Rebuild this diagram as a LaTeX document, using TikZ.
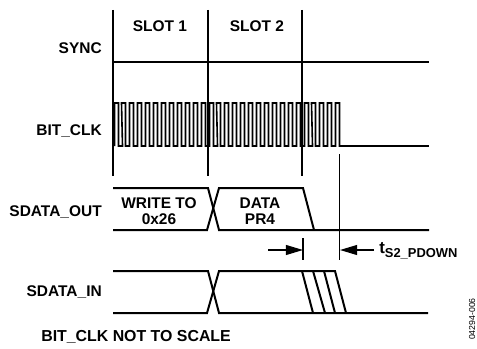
\documentclass[tikz,border=0pt]{standalone}
\usepackage{fontspec}
\usepackage{xcolor}
\setmainfont{Liberation Sans}
\usetikzlibrary{arrows.meta}

\tikzset{
	signal/.style={line width=0.5mm},
	thinsignal/.style={line width=0.4mm},
	marker/.style={line width=0.3mm},
	dimline/.style={line width=0.3mm, -{Triangle[length=4.3mm, width=2.5mm]}},
	signame/.style={font=\bfseries\fontsize{11pt}{11.4pt}\selectfont, align=center, inner sep=0pt},
}

\begin{document}
\begin{tikzpicture}[x=0.025cm, y=-0.025cm]
	\useasboundingbox (0, 0) rectangle (477, 348);

	% Signal names
	\node[signame, anchor=east] (SYNC) at (102, 48) {SYNC};
	\node[signame, anchor=east] (BITCLK) at (102, 131) {BIT\_CLK};
	\node[signame, anchor=east] (SDATAOUT) at (102, 212) {SDATA\_OUT};
	\node[signame, anchor=east] (SDATAIN) at (102, 292) {SDATA\_IN};
	\node[signame] (SLOT1) at (160, 26) {SLOT 1};
	\node[signame] (SLOT2) at (257, 26) {SLOT 2};
	\node[signame] (WRITE) at (159, 211) {WRITE TO\\0x26};
	\node[signame] (DATA) at (260, 211) {DATA\\PR4};
	\node[signame, anchor=west, font=\bfseries\fontsize{11.3pt}{12pt}\selectfont] (NOTE) at (41, 337) {BIT\_CLK NOT TO SCALE};
	\node[signame, anchor=base west] (TIME) at (379, 253) {\fontsize{12pt}{12pt}\selectfont t\raisebox{-3.5pt}{\fontsize{9.2pt}{10pt}\selectfont S2\_PDOWN}};
	\node[rotate=90, inner sep=0pt, font=\fontsize{6.2pt}{7pt}\selectfont] (CODE) at (472, 319) {04294-006};

	% Slot boundaries
	\draw[marker] (113, 10) -- (113, 176);
	\draw[marker] (208, 10) -- (208, 176);
	\draw[marker] (302, 10) -- (302, 176);

	% SYNC
	\draw[thinsignal] (113, 62) -- (429, 62);

	% BIT_CLK
	\draw[thinsignal] (114.5, 146) foreach \i in {0, ..., 28} {
		-- ({floor(114 + 7.917*\i) + 0.5}, 103) -- ({floor(118 + 7.917*\i) + 0.5}, 103)
		-- ({floor(118 + 7.917*\i) + 0.5}, 146) -- ({floor(122 + 7.917*\i) + 0.5}, 146)
	};
	\draw[thinsignal] (340, 146) -- (429, 146);

	% SDATA_OUT
	\draw[signal] (113, 188) -- (208, 188) -- (219, 230) -- (429, 230);
	\draw[signal] (113, 230) -- (207, 230) -- (219, 188) -- (303, 188) -- (314, 230);

	% SDATA_IN
	\draw[signal] (113, 271) -- (208, 271) -- (219, 313) -- (428, 313);
	\draw[signal] (113, 313) -- (207, 313) -- (219, 271) -- (335, 271) -- (346, 313);
	\draw[signal] (302, 271) -- (313, 313);
	\draw[signal] (313, 271) -- (325, 313);
	\draw[signal] (324, 271) -- (335, 313);

	% Timing marks
	\coordinate (A) at (303, 250);
	\coordinate (B) at (340, 250);
	\coordinate (C) at (268, 250);
	\coordinate (D) at (374, 250);
	\draw[marker] (303, 238) -- (303, 260);
	\draw[marker] (339.5, 154) -- (339.5, 260);
	\draw[dimline] (C) -- (A);
	\draw[dimline] (D) -- (B);
\end{tikzpicture}
\end{document}
